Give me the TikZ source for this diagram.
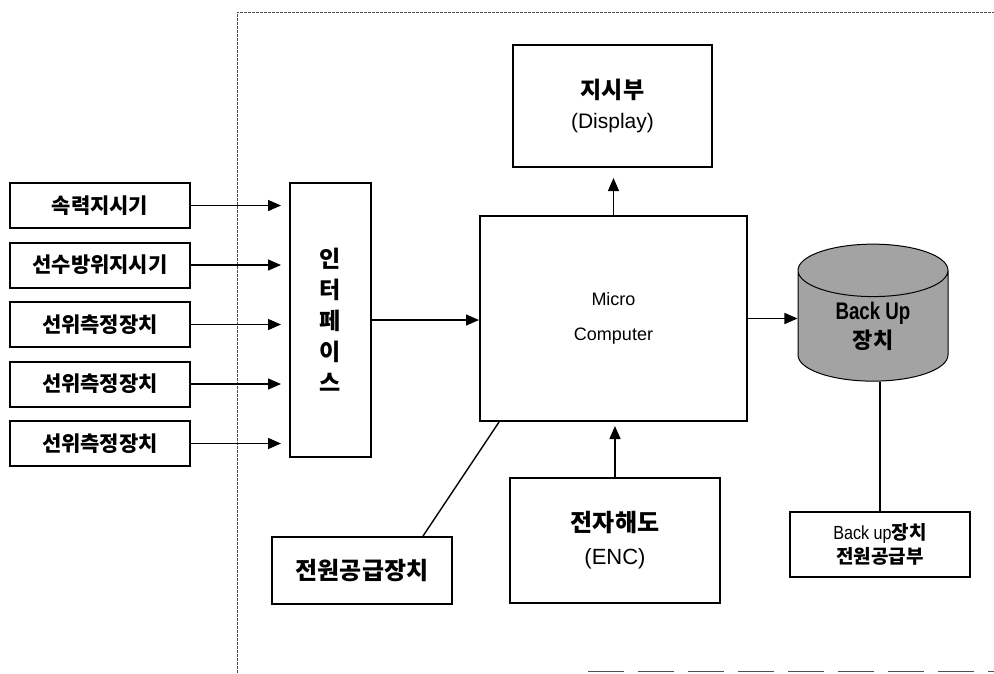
\documentclass[tikz,border=0pt]{standalone}
\usepackage{fontspec}
\setmainfont{Liberation Sans}
\newfontfamily\krfont{Noto Sans CJK KR}
\usetikzlibrary{arrows.meta,positioning,shapes.geometric}
\definecolor{DiskGray}{HTML}{A3A3A3}
\definecolor{FrameGray}{HTML}{505050}

\begin{document}
\begin{tikzpicture}[x=1pt,y=-1pt,node distance=12.5pt and 10pt, box/.style={draw,line width=2pt,fill=white,align=center,inner sep=2pt}, inbox/.style={box,minimum width=180pt,minimum height=45pt,font=\krfont\bfseries\fontsize{21}{24}\selectfont}, disk/.style={cylinder,shape border rotate=90,draw,line width=1pt,fill=DiskGray,aspect=0.7,minimum width=150pt,minimum height=137pt,align=center,inner sep=0pt}, flow/.style={-{Triangle[length=13pt,width=11pt]},line width=1.4pt}, link/.style={line width=1.4pt}, frame/.style={draw=FrameGray,line width=0.9pt,dash pattern=on 3pt off 1pt}]
\useasboundingbox (0,0) rectangle (994,673);
% outer frame
\draw[frame] (237,673) -- (237,12) -- (994,12);
\draw[frame,dash pattern=on 36pt off 14pt] (588,671) -- (994,671);
% sensors
\node[inbox] (speed) at (100,205.5) {속력지시기};
\node[inbox,below=of speed] (heading) {선수방위지시기};
\node[inbox,below=of heading] (pos1) {선위측정장치};
\node[inbox,below=of pos1] (pos2) {선위측정장치};
\node[inbox,below=of pos2] (pos3) {선위측정장치};
% main units
\node[box,minimum width=81pt,minimum height=274pt,font=\krfont\bfseries\fontsize{23}{31}\selectfont] (iface) at (330.5,320) {인\\터\\페\\이\\스};
\node[box,minimum width=267pt,minimum height=205pt,font=\fontsize{18}{35}\selectfont] (micro) at (613.5,318.5) {Micro\\Computer};
\node[box,minimum width=199pt,minimum height=122pt,font=\fontsize{21}{30}\selectfont] (display) at (612.5,106) {{\krfont\bfseries\fontsize{23}{30}\selectfont 지시부}\\(Display)};
\node[box,minimum width=210pt,minimum height=125pt,font=\fontsize{22}{33}\selectfont] (enc) at (615,540.5) {{\krfont\bfseries\fontsize{24}{33}\selectfont 전자해도}\\(ENC)};
\node[box,minimum width=180pt,minimum height=67pt,font=\krfont\bfseries\fontsize{24}{28}\selectfont] (power) at (362,570.5) {전원공급장치};
\node[disk,font=\fontsize{24}{29}\selectfont] (backup) at (873,326) {\scalebox{0.78}[1]{\bfseries Back Up}\\{\krfont\bfseries\fontsize{22}{29}\selectfont 장치}};
\node[box,minimum width=180pt,minimum height=65pt,font=\fontsize{19}{24}\selectfont] (bkpwr) at (880,544.5) {\scalebox{0.85}[1]{Back up}{\krfont\bfseries 장치}\\{\krfont\bfseries 전원공급부}};
% connectors
\foreach \s in {speed,heading,pos1,pos2,pos3}
  \draw[flow,shorten >=8pt] (\s.east) -- (\s.east -| iface.west);
\draw[flow] (iface.east) -- (iface.east -| micro.west);
\draw[flow,shorten >=10pt] (micro.north) -- (micro.north |- display.south);
\draw[flow] (micro.east) -- (micro.east -| backup.west);
\draw[flow,shorten >=4pt] (enc.north) -- (enc.north |- micro.south);
\draw[link] ([xshift=-30pt]power.north east) -- ([xshift=20pt]micro.south west);
\draw[link] (bkpwr.north) -- (bkpwr.north |- backup.south);
\end{tikzpicture}
\end{document}
